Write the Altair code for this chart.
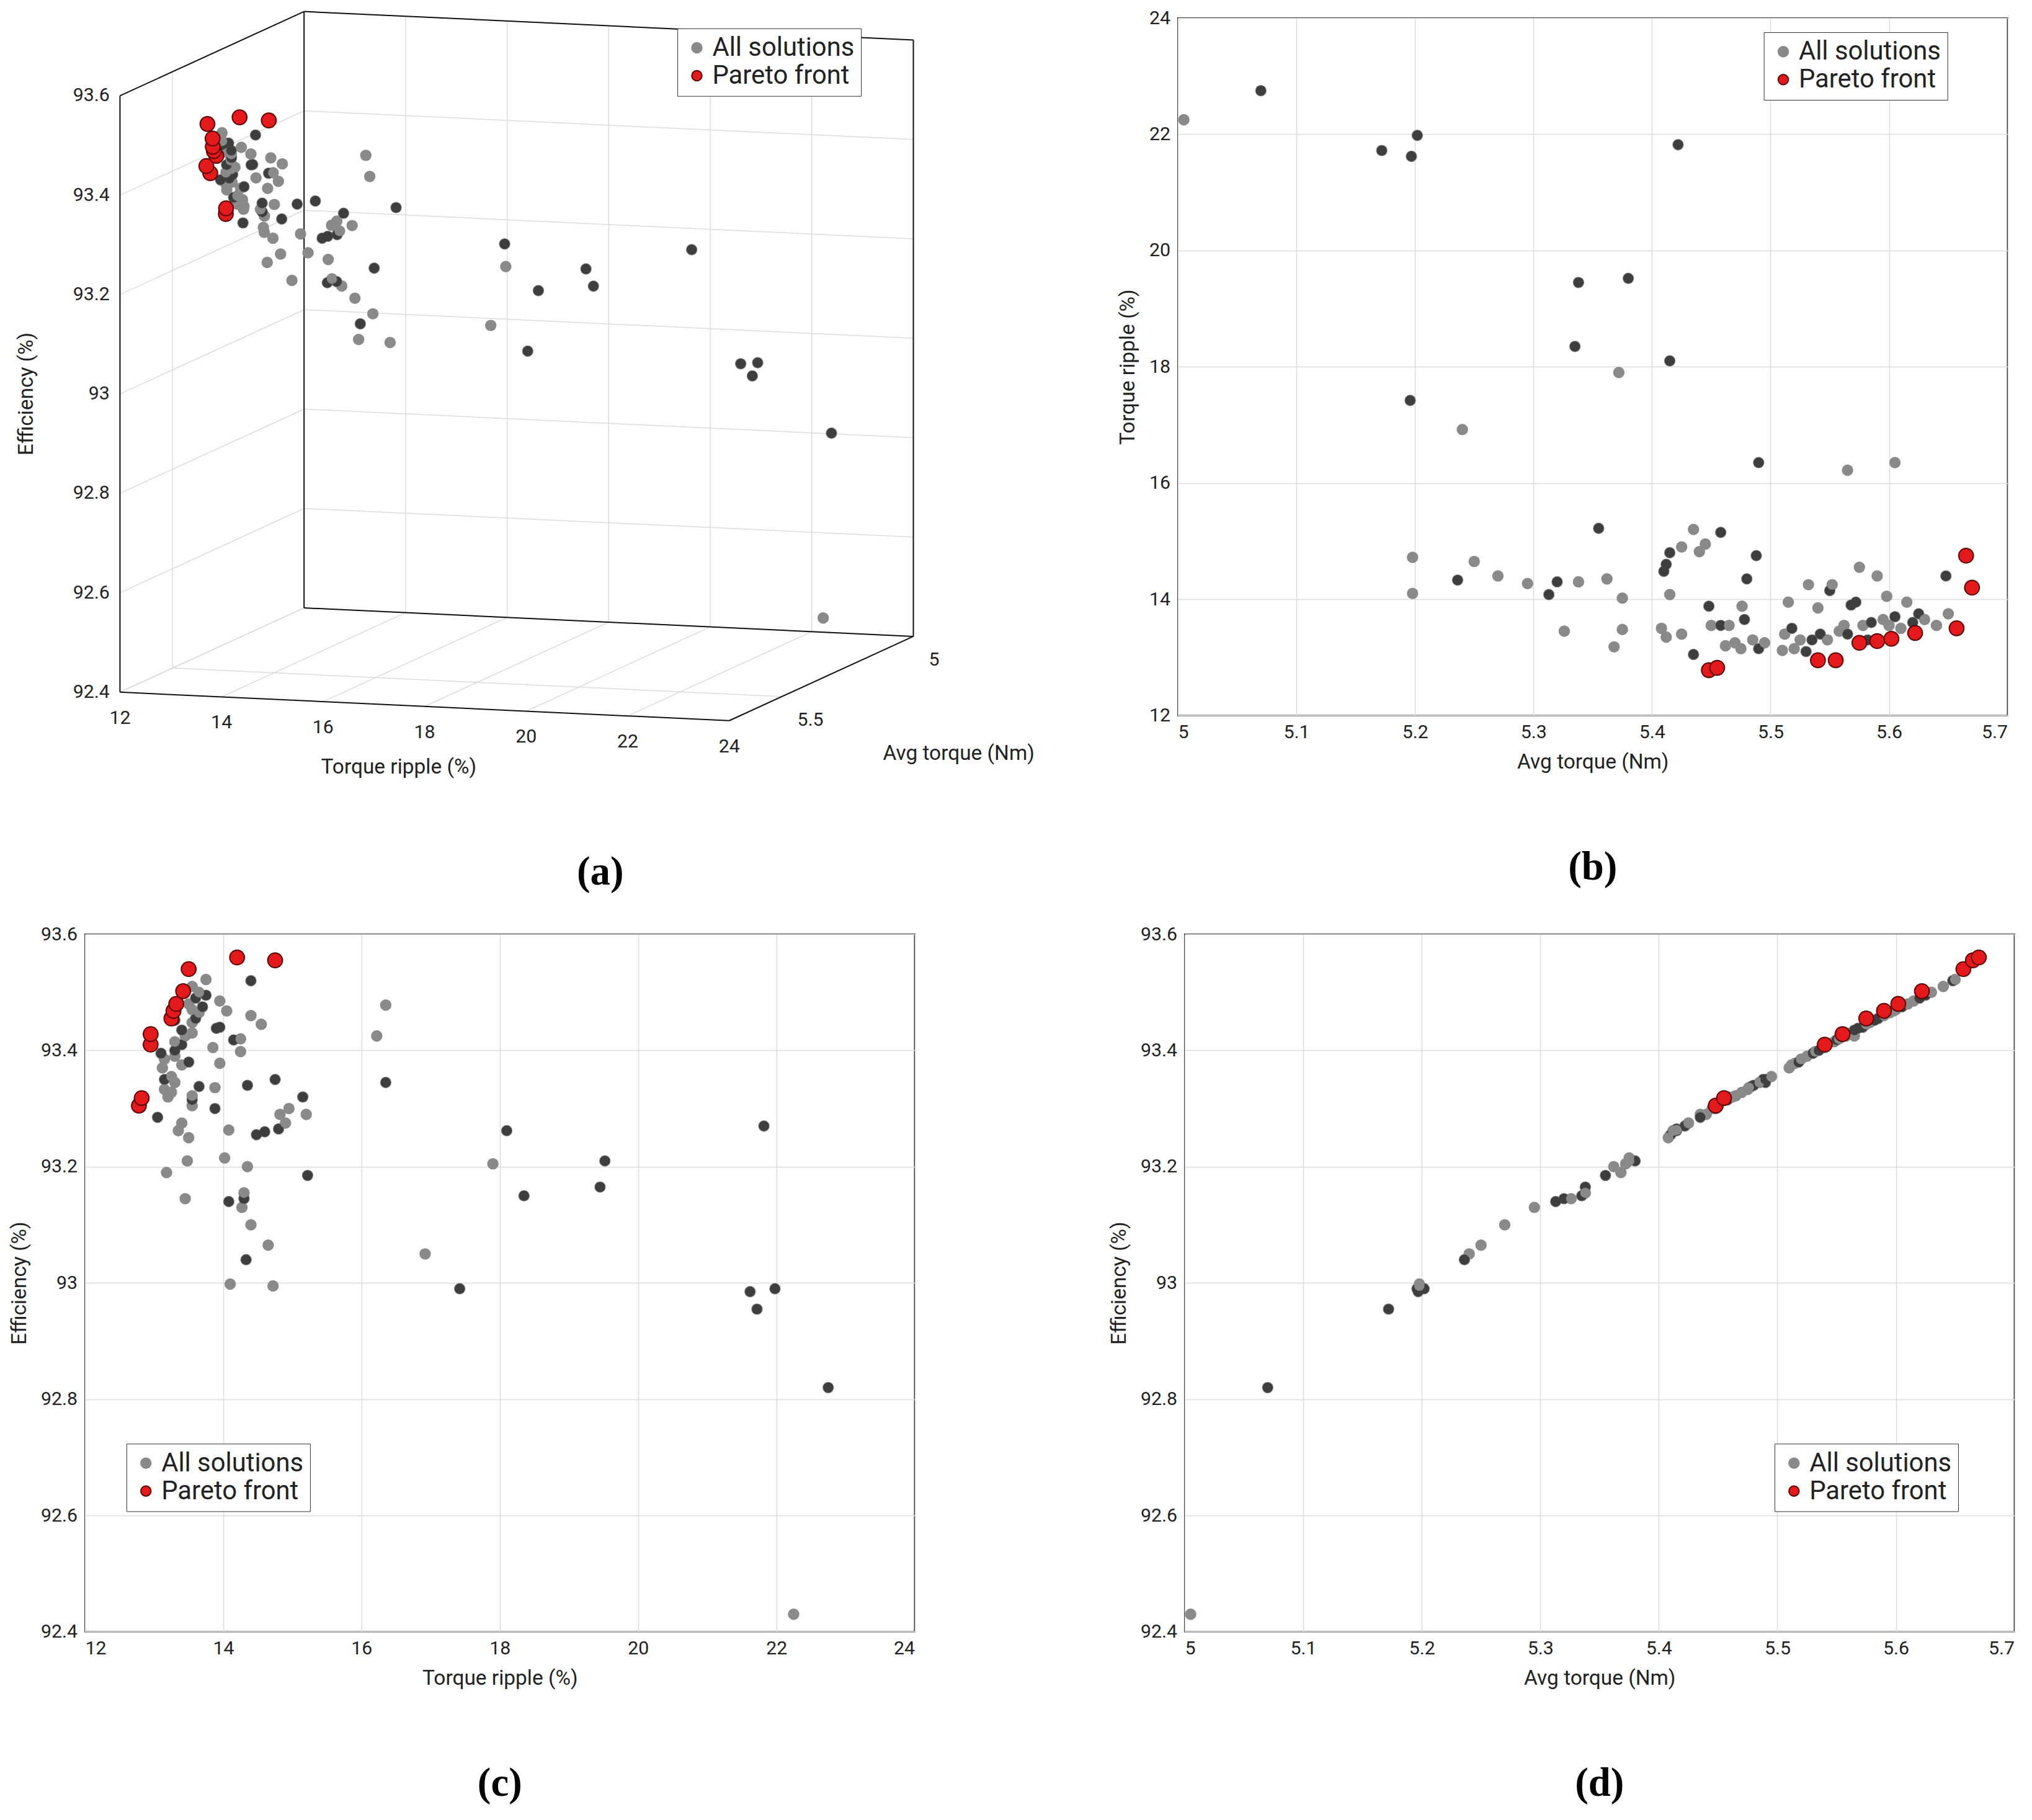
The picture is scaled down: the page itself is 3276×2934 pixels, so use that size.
import altair as alt
import pandas as pd

S = 2.09
FONT = "Roboto"

# all solutions: avg torque (Nm), torque ripple (%), efficiency (%), marker shade
torque = [5.005, 5.07, 5.172, 5.197, 5.202, 5.422, 5.338, 5.38, 5.335, 5.372, 5.415, 5.196,
          5.24, 5.49, 5.565, 5.605, 5.355, 5.435, 5.458, 5.198, 5.25, 5.198, 5.236, 5.27,
          5.295, 5.32, 5.313, 5.338, 5.362, 5.375, 5.326, 5.368, 5.375, 5.41, 5.412, 5.415,
          5.425, 5.44, 5.445, 5.488, 5.408, 5.412, 5.415, 5.425, 5.435, 5.448, 5.45, 5.458,
          5.462, 5.465, 5.47, 5.475, 5.478, 5.48, 5.476, 5.485, 5.49, 5.495, 5.51, 5.512,
          5.515, 5.518, 5.52, 5.525, 5.53, 5.532, 5.535, 5.54, 5.542, 5.548, 5.55, 5.552,
          5.558, 5.562, 5.565, 5.568, 5.572, 5.575, 5.578, 5.582, 5.585, 5.59, 5.595, 5.598,
          5.6, 5.605, 5.61, 5.615, 5.62, 5.625, 5.63, 5.64, 5.648, 5.65]
ripple = [22.25, 22.75, 21.72, 21.62, 21.98, 21.82, 19.45, 19.52, 18.35, 17.9, 18.1, 17.42,
          16.92, 16.35, 16.22, 16.35, 15.22, 15.2, 15.15, 14.72, 14.65, 14.1, 14.33, 14.4,
          14.27, 14.3, 14.08, 14.3, 14.35, 14.02, 13.45, 13.18, 13.48, 14.48, 14.6, 14.8,
          14.9, 14.82, 14.95, 14.75, 13.5, 13.35, 14.08, 13.4, 13.05, 13.88, 13.55, 13.55,
          13.2, 13.55, 13.25, 13.15, 13.65, 14.35, 13.88, 13.3, 13.15, 13.25, 13.12, 13.4,
          13.95, 13.5, 13.15, 13.3, 13.1, 14.25, 13.3, 13.85, 13.4, 13.3, 14.15, 14.25,
          13.45, 13.55, 13.4, 13.9, 13.95, 14.55, 13.55, 13.3, 13.6, 14.4, 13.65, 14.05,
          13.55, 13.7, 13.5, 13.95, 13.6, 13.75, 13.65, 13.55, 14.4, 13.75]
efficiency = [92.43, 92.82, 92.955, 92.985, 92.99, 93.27, 93.165, 93.21, 93.15, 93.205, 93.262, 92.99,
              93.05, 93.345, 93.425, 93.478, 93.185, 93.29, 93.32, 92.995, 93.065, 92.998, 93.04, 93.1,
              93.13, 93.145, 93.14, 93.155, 93.2, 93.215, 93.145, 93.19, 93.21, 93.255, 93.26, 93.265,
              93.275, 93.29, 93.3, 93.35, 93.25, 93.262, 93.263, 93.275, 93.285, 93.3, 93.305, 93.315,
              93.32, 93.322, 93.328, 93.333, 93.338, 93.34, 93.336, 93.345, 93.35, 93.355, 93.37, 93.375,
              93.378, 93.38, 93.385, 93.39, 93.395, 93.398, 93.4, 93.405, 93.41, 93.415, 93.418, 93.42,
              93.425, 93.43, 93.435, 93.438, 93.44, 93.445, 93.448, 93.452, 93.455, 93.46, 93.465, 93.468,
              93.47, 93.475, 93.48, 93.485, 93.49, 93.495, 93.5, 93.51, 93.52, 93.522]
shade = list("LDDDDDDDDLDDLDLLDLDLLLDLLDDLLLLLLDDDLLLDLLLLDDLDLLLLDDLLDLLL"
             "LDLLDLDLDLDLLLDDDLLDDLLLLDLLDDLLDL")

# Pareto front
p_torque = [5.448, 5.455, 5.54, 5.555, 5.575, 5.59, 5.602, 5.622, 5.657, 5.665, 5.67]
p_ripple = [12.78, 12.82, 12.95, 12.95, 13.25, 13.28, 13.32, 13.42, 13.5, 14.75, 14.2]
p_eff = [93.305, 93.318, 93.41, 93.428, 93.455, 93.468, 93.48, 93.502, 93.54, 93.555, 93.56]

ripple_ticks = [12, 14, 16, 18, 20, 22, 24]
eff_ticks = [92.4, 92.6, 92.8, 93.0, 93.2, 93.4, 93.6]
torque_ticks = [5.0, 5.5]

LIGHT, DARK = "#8a8a8a", "#3e3e3e"
RED, RED_EDGE = "#e3191c", "#5c0000"
GREY_SIZE, RED_SIZE = 270, 560

shade = (shade + ["L"] * len(torque))[:len(torque)]
grey = pd.DataFrame({"torque": torque, "ripple": ripple, "eff": efficiency,
                     "shade": shade, "series": "All solutions"})
red = pd.DataFrame({"torque": p_torque, "ripple": p_ripple, "eff": p_eff,
                    "shade": "R", "series": "Pareto front"})
allpts = pd.concat([grey, red], ignore_index=True)

series_scale = alt.Scale(domain=["All solutions", "Pareto front"], range=[LIGHT, RED])
stroke_scale = alt.Scale(domain=["All solutions", "Pareto front"], range=[LIGHT, RED_EDGE])


def legend(x, y):
    return alt.Legend(orient="none", legendX=x * S, legendY=y * S, title=None,
                      fillColor="white", strokeColor="#333", padding=5 * S,
                      labelFontSize=20 * S, labelFont=FONT, symbolSize=GREY_SIZE,
                      rowPadding=2, symbolStrokeWidth=2, labelColor="#222", labelLimit=0)


def caption_title(text, offset):
    return alt.TitleParams(text, orient="bottom", font="Liberation Serif",
                           fontWeight="bold", fontSize=31 * S, offset=offset * S)


def scatter(xs, ys, lx, ly, caption):
    l0 = alt.Chart(allpts).mark_circle(size=GREY_SIZE, opacity=1).encode(
        x=xs, y=ys,
        color=alt.Color("series:N", scale=series_scale, legend=legend(lx, ly)),
        stroke=alt.Stroke("series:N", scale=stroke_scale, legend=None))
    l1 = alt.Chart(grey).mark_circle(size=GREY_SIZE, opacity=1).encode(
        x=xs, y=ys,
        color=alt.condition("datum.shade == 'D'", alt.value(DARK), alt.value(LIGHT)))
    l2 = alt.Chart(red).mark_circle(size=RED_SIZE, opacity=1, color=RED, stroke=RED_EDGE,
                                    strokeWidth=2).encode(x=xs, y=ys)
    return alt.layer(l0, l1, l2).properties(
        width=640 * S, height=538 * S, title=caption_title(caption, 58))


num = ".4~g"
torque_x = alt.X("torque:Q", title="Avg torque (Nm)", scale=alt.Scale(domain=[5, 5.7]),
                 axis=alt.Axis(values=[5, 5.1, 5.2, 5.3, 5.4, 5.5, 5.6, 5.7], format=num))
ripple_x = alt.X("ripple:Q", title="Torque ripple (%)", scale=alt.Scale(domain=[12, 24]),
                 axis=alt.Axis(values=ripple_ticks, format=num))
ripple_y = alt.Y("ripple:Q", title="Torque ripple (%)", scale=alt.Scale(domain=[12, 24]),
                 axis=alt.Axis(values=ripple_ticks, format=num))
eff_y = alt.Y("eff:Q", title="Efficiency (%)", scale=alt.Scale(domain=[92.4, 93.6]),
              axis=alt.Axis(values=eff_ticks, format=num))

panel_b = scatter(torque_x, ripple_y, 452, 11, "(b)")
panel_c = scatter(ripple_x, eff_y, 32, 393, "(c)")
panel_d = scatter(torque_x, eff_y, 455, 393, "(d)")


# ---- panel (a): 3D projection ----
def px(r, t):
    return f"90 + 470*(({r})-12)/12 + 142*(5.7-({t}))/0.7"


def py(r, t, e):
    return f"540 + 22*(({r})-12)/12 - 65*(5.7-({t}))/0.7 - 460*(({e})-92.4)/1.2"


segs = []
for r in ripple_ticks:
    segs.append((r, 5.0, 92.4, r, 5.0, 93.6, "grid"))
    segs.append((r, 5.7, 92.4, r, 5.0, 92.4, "grid"))
for e in eff_ticks:
    segs.append((12, 5.0, e, 24, 5.0, e, "grid"))
    segs.append((12, 5.7, e, 12, 5.0, e, "grid"))
segs.append((12, 5.5, 92.4, 12, 5.5, 93.6, "grid"))
segs.append((12, 5.5, 92.4, 24, 5.5, 92.4, "grid"))
edges = [(12, 5.7, 92.4, 12, 5.7, 93.6), (12, 5.7, 93.6, 12, 5.0, 93.6),
         (12, 5.0, 92.4, 12, 5.0, 93.6), (12, 5.0, 93.6, 24, 5.0, 93.6),
         (24, 5.0, 92.4, 24, 5.0, 93.6), (12, 5.7, 92.4, 24, 5.7, 92.4),
         (24, 5.7, 92.4, 24, 5.0, 92.4), (12, 5.0, 92.4, 24, 5.0, 92.4)]
segs += [e + ("edge",) for e in edges]
seg_df = pd.DataFrame(segs, columns=["r1", "t1", "e1", "r2", "t2", "e2", "kind"])

# the concat layout puts this panel's origin ~63 px right and ~20 px low, so offset the domain
A_W, A_H = 795, 610
ax = alt.X("sx:Q", scale=alt.Scale(domain=[63, 63 + A_W]), axis=None)
ay = alt.Y("sy:Q", scale=alt.Scale(domain=[20, 20 + A_H], reverse=True), axis=None)

seg_layer = alt.Chart(seg_df).transform_calculate(
    sx=px("datum.r1", "datum.t1"), sy=py("datum.r1", "datum.t1", "datum.e1"),
    sx2=px("datum.r2", "datum.t2"), sy2=py("datum.r2", "datum.t2", "datum.e2"),
).mark_rule().encode(
    x=ax, y=ay, x2="sx2:Q", y2="sy2:Q",
    color=alt.condition("datum.kind == 'edge'", alt.value("#111"), alt.value("#dcdcdc")),
    strokeWidth=alt.condition("datum.kind == 'edge'", alt.value(2), alt.value(1.5)),
)


def proj(chart):
    return chart.transform_calculate(sx=px("datum.ripple", "datum.torque"),
                                     sy=py("datum.ripple", "datum.torque", "datum.eff"))


a0 = proj(alt.Chart(allpts)).mark_circle(size=GREY_SIZE, opacity=1).encode(
    x=ax, y=ay,
    color=alt.Color("series:N", scale=series_scale, legend=legend(457, 8)),
    stroke=alt.Stroke("series:N", scale=stroke_scale, legend=None))
a1 = proj(alt.Chart(grey)).mark_circle(size=GREY_SIZE, opacity=1).encode(
    x=ax, y=ay,
    color=alt.condition("datum.shade == 'D'", alt.value(DARK), alt.value(LIGHT)))
a2 = proj(alt.Chart(red)).mark_circle(size=RED_SIZE, opacity=1, color=RED, stroke=RED_EDGE,
                                      strokeWidth=2).encode(x=ax, y=ay)

lab_style = dict(font=FONT, fontSize=14.5 * S, color="#222")
rip_lab = alt.Chart(pd.DataFrame({"v": ripple_ticks})).transform_calculate(
    sx=px("datum.v", 5.7), sy=py("datum.v", 5.7, 92.4) + " + 20"
).mark_text(align="center", **lab_style).encode(x=ax, y=ay, text="v:Q")
eff_lab = alt.Chart(pd.DataFrame({"v": eff_ticks})).transform_calculate(
    sx=px(12, 5.7) + " - 8", sy=py(12, 5.7, "datum.v")
).mark_text(align="right", baseline="middle", **lab_style).encode(
    x=ax, y=ay, text=alt.Text("v:Q", format=num))
tor_lab = alt.Chart(pd.DataFrame({"v": torque_ticks})).transform_calculate(
    sx=px(24, "datum.v") + " + 12", sy=py(24, "datum.v", 92.4) + " + 18"
).mark_text(align="left", **lab_style).encode(
    x=ax, y=ay, text=alt.Text("v:Q", format=num))

title_style = dict(font=FONT, fontSize=16 * S, color="#222")
rip_title = alt.Chart(pd.DataFrame({"txt": ["Torque ripple (%)"]})).transform_calculate(
    sx=px(18, 5.7) + " - 20", sy=py(18, 5.7, 92.4) + " + 47"
).mark_text(**title_style).encode(x=ax, y=ay, text="txt:N")
tor_title = alt.Chart(pd.DataFrame({"txt": ["Avg torque (Nm)"]})).transform_calculate(
    sx=px(24, 5.35) + " + 106", sy=py(24, 5.35, 92.4) + " + 58"
).mark_text(**title_style).encode(x=ax, y=ay, text="txt:N")
e_title = alt.Chart(pd.DataFrame({"txt": ["Efficiency (%)"]})).transform_calculate(
    sx=px(12, 5.7) + " - 72", sy=py(12, 5.7, 93.0)
).mark_text(angle=270, **title_style).encode(x=ax, y=ay, text="txt:N")

panel_a = alt.layer(seg_layer, a0, a1, a2, rip_lab, eff_lab, tor_lab,
                    rip_title, tor_title, e_title).properties(
    width=A_W * S, height=A_H * S,
    view=alt.ViewBackground(stroke="transparent"),
    title=caption_title("(a)", 34),
)

indep = dict(color="independent", stroke="independent")
row1 = alt.hconcat(panel_a, panel_b, spacing=0).resolve_scale(**indep)
row2 = alt.hconcat(panel_c, panel_d, spacing=310).resolve_scale(**indep)
chart = alt.vconcat(row1, row2, spacing=50).resolve_scale(**indep).configure_view(
    stroke="#111", strokeWidth=2
).configure_axis(
    labelFont=FONT, titleFont=FONT, labelFontSize=14.5 * S, titleFontSize=16 * S,
    labelColor="#222", titleColor="#222", titleFontWeight="normal",
    grid=True, gridColor="#dcdcdc", gridWidth=1.5, domain=False, ticks=False,
    labelPadding=6 * S, titlePadding=8 * S,
).configure_legend(labelFont=FONT)

chart.save("out.html", embed_options={"renderer": "svg", "actions": False})
